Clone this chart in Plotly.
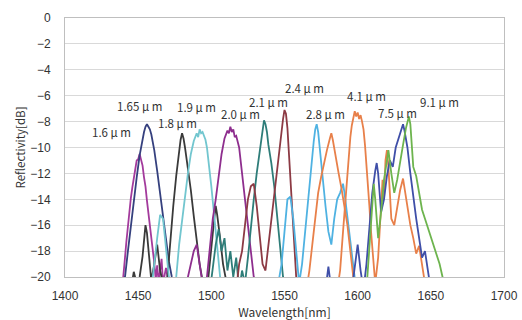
import plotly.graph_objects as go

# ---- data ----
wl_16 = [1439, 1440, 1441, 1442, 1443, 1444, 1445, 1446, 1447, 1448, 1449, 1450, 1451, 1452, 1453, 1454, 1455, 1456, 1457, 1458, 1459, 1460, 1461, 1462, 1463, 1464, 1466, 1467, 1469, 1471, 1473]
db_16 = [-21, -20, -18.5, -17.2, -16, -14.8, -13.9, -13.1, -12.2, -11.7, -11.0, -10.9, -10.5, -10.9, -11.4, -12.3, -13.0, -14.1, -15.0, -16.0, -17.1, -17.8, -18.9, -20.2, -19.1, -20.4, -18.6, -20.5, -19.3, -20.6, -21]

wl_165 = [1439, 1441, 1443, 1445, 1447, 1449, 1451, 1453, 1454, 1455, 1456, 1457, 1458, 1459, 1461, 1463, 1465, 1467, 1469, 1471, 1473, 1475]
db_165 = [-21, -20, -18, -16, -14.2, -12.3, -10.6, -9.3, -8.8, -8.4, -8.2, -8.4, -8.6, -9.0, -10.2, -11.8, -13.5, -15.2, -17, -18.8, -20, -21]

wl_18 = [1445, 1447, 1449, 1451, 1453, 1455, 1456, 1457, 1459, 1461, 1463, 1465, 1467, 1470, 1472, 1474, 1476, 1478, 1479, 1480, 1481, 1482, 1484, 1486, 1488, 1490, 1492, 1494, 1496, 1498, 1500, 1502, 1503, 1504, 1506, 1508, 1510, 1512]
db_18 = [-21, -19.6, -20.5, -20, -18.4, -16.0, -16.6, -18.0, -20.3, -19.0, -17.5, -19.5, -20.5, -20, -17, -14.5, -12.2, -10.2, -9.4, -8.9, -9.3, -10.0, -11.5, -13.3, -15.3, -17.2, -19.0, -20.3, -21, -20, -17.5, -15.5, -14.5, -15.2, -17.0, -19.0, -20.2, -21]

wl_19 = [1458, 1460, 1463, 1465, 1467, 1469, 1471, 1473, 1476, 1478, 1480, 1482, 1484, 1486, 1488, 1490, 1491, 1492, 1493, 1494, 1496, 1497, 1498, 1500, 1502, 1504, 1506, 1508]
db_19 = [-21, -20, -17, -15.2, -15.5, -18, -20, -21, -20, -17.5, -15.5, -13.8, -12, -10.5, -9.5, -8.9, -9.2, -8.6, -8.9, -8.8, -9.4, -10.0, -11.2, -13, -15.3, -17.5, -20, -21]

wl_20 = [1482, 1484, 1486, 1488, 1490, 1492, 1494, 1497, 1499, 1501, 1503, 1505, 1507, 1509, 1510, 1511, 1512, 1513, 1514, 1515, 1516, 1517, 1519, 1521, 1523, 1525, 1527, 1529, 1531]
db_20 = [-21, -20, -19, -18, -17.5, -19, -20.5, -20, -17.5, -15.5, -14, -12, -10.5, -9.3, -9.0, -8.7, -8.9, -8.4, -8.8, -8.6, -9.2, -9.1, -10, -11.8, -14, -16, -18, -20, -21]

wl_21 = [1498, 1501, 1503, 1505, 1507, 1509, 1511, 1513, 1515, 1517, 1519, 1521, 1523, 1525, 1527, 1529, 1531, 1533, 1535, 1536, 1537, 1538, 1539, 1541, 1543, 1545, 1547, 1549, 1551]
db_21 = [-22, -19, -17.5, -16.3, -18, -17, -19.5, -18, -20, -18.5, -21, -19.5, -20.5, -18.5, -16, -14, -12, -10.3, -8.6, -7.9, -8.2, -8.8, -9.8, -11.2, -13, -15.5, -18, -20, -21]

wl_24 = [1515, 1517, 1519, 1521, 1523, 1525, 1527, 1529, 1531, 1533, 1535, 1537, 1539, 1541, 1543, 1545, 1547, 1549, 1550, 1551, 1552, 1553, 1554, 1555, 1556, 1557, 1558, 1560]
db_24 = [-22, -21, -19, -18, -16, -14, -13, -12.8, -14.5, -17, -19, -19.5, -17.5, -15.5, -13.5, -11.5, -9.5, -7.8, -7.1, -7.4, -8.5, -10.5, -12.5, -14.5, -16.5, -18.5, -20, -21]

wl_28 = [1545, 1548, 1550, 1552, 1554, 1556, 1558, 1560, 1562, 1564, 1566, 1568, 1570, 1571, 1572, 1573, 1574, 1576, 1578, 1580, 1582, 1584, 1586, 1588, 1590, 1591, 1593, 1595, 1597, 1599]
db_28 = [-21, -19, -16.5, -14, -13.8, -15.5, -18, -20.5, -19, -16.5, -14, -11.5, -9.5, -8.6, -8.2, -8.8, -10, -12.5, -14.5, -16.5, -17.5, -15.5, -14, -13.5, -12.8, -13.5, -15.5, -17.5, -19.5, -21]

wl_or1 = [1565, 1567, 1569, 1571, 1573, 1575, 1577, 1579, 1581, 1582, 1583, 1585, 1587, 1589, 1591, 1593, 1595, 1597, 1599]
db_or1 = [-21, -19.5, -17.5, -15.5, -13.5, -12.3, -11.2, -10.2, -9.3, -8.9, -9.4, -10.8, -12, -13.2, -14.6, -16, -18, -20, -21]

wl_41 = [1586, 1588, 1590, 1592, 1593, 1594, 1595, 1596, 1597, 1598, 1599, 1600, 1601, 1602, 1603, 1604, 1605, 1606, 1607, 1608, 1609, 1610, 1611, 1612, 1614, 1616, 1617, 1618, 1619, 1620, 1621, 1622, 1623, 1625, 1627, 1629, 1631, 1632, 1634, 1636, 1638, 1640, 1642, 1644, 1646]
db_41 = [-21, -19.5, -16.5, -13.5, -12, -10.5, -9.2, -8.3, -7.6, -7.2, -7.6, -7.3, -7.8, -7.5, -8.0, -8.6, -9.8, -11.2, -12.8, -14.5, -16.3, -18, -19.5, -20.5, -18.5, -15, -12.5, -14, -11, -10.2, -11.5, -13.5, -15.5, -16, -14.5, -13.3, -12.4, -13.2, -14.5, -16, -17, -18.2, -17.6, -19.2, -20.5]

wl_75 = [1578, 1580, 1582, 1584, 1596, 1598, 1600, 1602, 1604, 1606, 1608, 1610, 1612, 1613, 1614, 1616, 1618, 1620, 1622, 1624, 1626, 1628, 1630, 1631, 1632, 1634, 1636, 1638, 1640, 1642, 1644, 1646, 1648, 1650]
db_75 = [-21, -19.2, -21, -20.5, -21, -19, -17.5, -19.5, -21, -19, -16, -13.5, -11.8, -11.2, -12, -15, -14, -12.2, -11, -11.5, -10, -9.3, -8.5, -8.2, -8.7, -10, -12, -14, -15.5, -17, -18.5, -18, -19.5, -21]

wl_91 = [1606, 1608, 1610, 1611, 1612, 1614, 1616, 1618, 1620, 1621, 1623, 1625, 1627, 1629, 1631, 1633, 1635, 1636, 1637, 1638, 1640, 1642, 1644, 1646, 1648, 1650, 1652, 1654, 1656, 1658, 1660]
db_91 = [-21, -18, -14.5, -12.8, -14, -17, -15, -12.5, -11, -10.2, -12, -13.5, -12.5, -11, -9.8, -8.5, -7.6, -8.2, -9.8, -11.5, -12.2, -13.5, -14.8, -15.5, -16.2, -16.8, -17.5, -18.2, -19, -20, -21]

series_names = ["1.6 μm", "1.65 μm", "1.8 μm", "1.9 μm", "2.0 μm", "2.1 μm", "2.4 μm", "2.8 μm", "4.1 μm (a)", "4.1 μm", "7.5 μm", "9.1 μm"]
series_x = [wl_16, wl_165, wl_18, wl_19, wl_20, wl_21, wl_24, wl_28, wl_or1, wl_41, wl_75, wl_91]
series_y = [db_16, db_165, db_18, db_19, db_20, db_21, db_24, db_28, db_or1, db_41, db_75, db_91]
series_colors = ["#A33A9C", "#35407E", "#3A3A3A", "#72C6CF", "#8E2E8E", "#2E7D79",
                 "#8C3A44", "#4FB2E2", "#E8804A", "#E8804A", "#3F4FA8", "#6DB44E"]

label_texts = ["1.6 μ m", "1.65 μ m", "1.8 μ m", "1.9 μ m", "2.0 μ m", "2.1 μ m",
               "2.4 μ m", "2.8 μ m", "4.1 μ m", "7.5 μ m", "9.1 μ m"]
label_x = [1432, 1451, 1477, 1490, 1520, 1539, 1564, 1578, 1606, 1627, 1656]
label_y = [-8.8, -6.8, -8.1, -6.9, -7.4, -6.5, -5.4, -7.4, -6.0, -7.3, -6.5]

x_ticks = [1400, 1450, 1500, 1550, 1600, 1650, 1700]
y_ticks = [0, -2, -4, -6, -8, -10, -12, -14, -16, -18, -20]

fig = go.Figure()
for name, xs, ys, c in zip(series_names, series_x, series_y, series_colors):
    fig.add_trace(go.Scatter(x=xs, y=ys, mode="lines", name=name,
                             line=dict(color=c, width=1.8), showlegend=False))

for t, lx, ly in zip(label_texts, label_x, label_y):
    fig.add_annotation(x=lx, y=ly, text=t, showarrow=False,
                       font=dict(family="Noto Sans CJK JP", size=11.5, color="#333333"))

tick_font = dict(family="Liberation Sans", size=12, color="#333333")

fig.update_xaxes(range=[1400, 1700], tickvals=x_ticks, ticks="outside", ticklen=8,
                 tickcolor="rgba(0,0,0,0)", showgrid=False, automargin=False,
                 showline=True, mirror=True, linecolor="#BFBFBF", linewidth=1, zeroline=False,
                 tickfont=tick_font,
                 title=dict(text="Wavelength[nm]",
                            font=dict(family="Noto Sans CJK JP", size=12, color="#333333"), standoff=3))
fig.update_yaxes(range=[-20, 0], tickvals=y_ticks, ticks="outside", ticklen=11,
                 tickcolor="rgba(0,0,0,0)", automargin=False,
                 showline=True, mirror=True, linecolor="#BFBFBF", linewidth=1,
                 showgrid=True, gridcolor="#D9D9D9", gridwidth=1, zeroline=False,
                 tickfont=tick_font,
                 title=dict(text="Reflectivity[dB]",
                            font=dict(family="Noto Sans CJK JP", size=11.5, color="#333333"), standoff=2))

fig.update_layout(width=522, height=320, margin=dict(l=65, r=18, t=18, b=43),
                  plot_bgcolor="white", paper_bgcolor="white")

fig.write_html("out.html", config={"displayModeBar": False},
               post_script="document.body.style.margin='0';document.body.style.overflow='hidden';")
